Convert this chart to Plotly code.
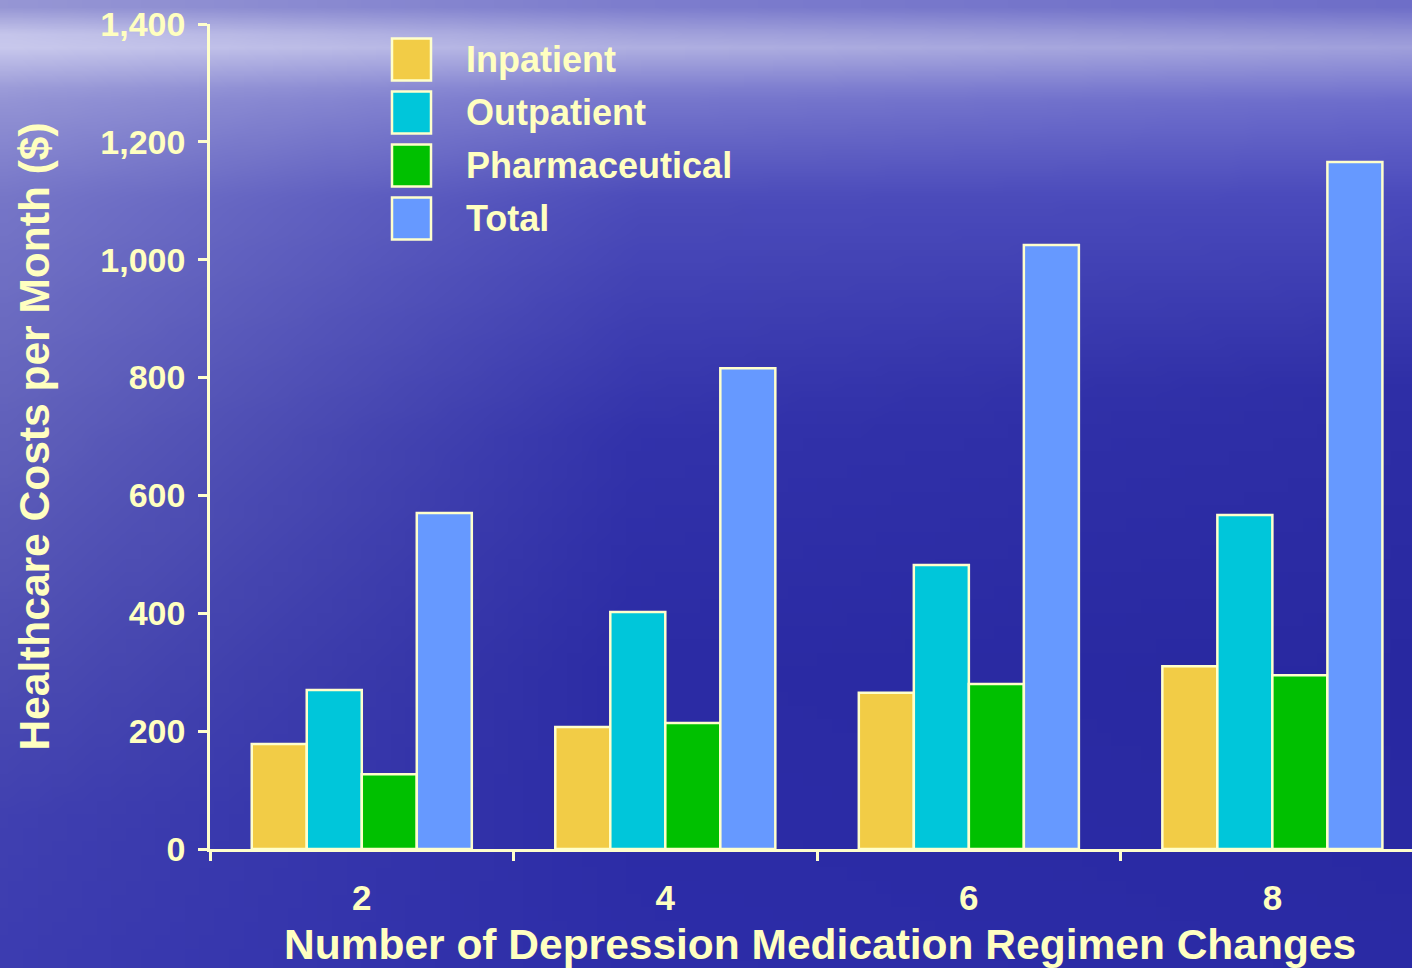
import base64
import struct
import zlib

import plotly.graph_objects as go

# ---------------- data ----------------
categories = ["2", "4", "6", "8"]
series_names = ["Inpatient", "Outpatient", "Pharmaceutical", "Total"]
inpatient = [178, 207, 265, 310]
outpatient = [270, 402, 482, 567]
pharmaceutical = [127, 214, 280, 295]
total = [570, 816, 1025, 1166]
y_ticks = [0, 200, 400, 600, 800, 1000, 1200, 1400]
x_title = "Number of Depression Medication Regimen Changes"
y_title = "Healthcare Costs per Month ($)"

series_values = [inpatient, outpatient, pharmaceutical, total]
series_colors = ["#F2CC46", "#00C6DA", "#00C000", "#6699FF"]

TEXT = "#FFFFC0"
LINE = "#FFFFCC"
FONT = "Liberation Sans, Arial, sans-serif"

W_FIG, H_FIG = 1412, 968
ML, MR, MT, MB = 210, 0, 24, 119
PW = W_FIG - ML - MR
PH = H_FIG - MT - MB


# ---------------- background gradient image ----------------
def lerp(a, b, t):
    return tuple(a[k] + (b[k] - a[k]) * t for k in range(3))


def profile(stops, v):
    for (v0, c0), (v1, c1) in zip(stops, stops[1:]):
        if v0 <= v <= v1:
            return lerp(c0, c1, (v - v0) / (v1 - v0) if v1 > v0 else 0)
    return stops[-1][1]


left_col = [(0, (150, 150, 212)), (0.035, (208, 208, 240)), (0.09, (150, 150, 214)),
            (0.2, (118, 118, 200)), (0.45, (96, 96, 186)), (0.7, (76, 76, 178)),
            (0.85, (64, 64, 176)), (1, (60, 60, 176))]
mid_col = [(0, (125, 125, 205)), (0.04, (178, 178, 226)), (0.09, (122, 122, 206)),
           (0.2, (76, 76, 186)), (0.45, (50, 50, 170)), (0.7, (43, 43, 164)),
           (1, (45, 45, 168))]
right_col = [(0, (110, 110, 200)), (0.04, (162, 162, 220)), (0.1, (108, 108, 204)),
             (0.2, (74, 74, 188)), (0.4, (46, 46, 166)), (0.7, (40, 40, 160)),
             (1, (42, 42, 164))]


def bg_color(u, v):
    a = profile(left_col, v)
    b = profile(mid_col, v)
    c = profile(right_col, v)
    if u < 0.45:
        col = lerp(a, b, u / 0.45)
    else:
        col = lerp(b, c, (u - 0.45) / 0.55)
    return bytes(int(max(0, min(255, round(x)))) for x in col)


def make_png(w, h):
    raw = bytearray()
    for j in range(h):
        v = j / (h - 1)
        raw.append(0)
        for i in range(w):
            raw += bg_color(i / (w - 1), v)

    def chunk(tag, data):
        return (struct.pack(">I", len(data)) + tag + data
                + struct.pack(">I", zlib.crc32(tag + data) & 0xFFFFFFFF))

    return (b"\x89PNG\r\n\x1a\n"
            + chunk(b"IHDR", struct.pack(">IIBBBBB", w, h, 8, 2, 0, 0, 0))
            + chunk(b"IDAT", zlib.compress(bytes(raw), 9))
            + chunk(b"IEND", b""))


bg_src = "data:image/png;base64," + base64.b64encode(make_png(96, 72)).decode()

# ---------------- figure ----------------
fig = go.Figure()
for name, vals, col in zip(series_names, series_values, series_colors):
    fig.add_trace(go.Bar(
        x=categories, y=vals, name=name,
        marker=dict(color=col, line=dict(color=LINE, width=2.5)),
        showlegend=False,
    ))


def px_x(px):
    return (px - ML) / PW


def px_y(py):
    return (H_FIG - MB - py) / PH


# custom legend (large swatches like the original)
shapes = []
annotations = []
sw_x0, sw_x1 = 392, 431
sw_centers = [59.5, 112.5, 165.5, 218.5]
for name, col, cy in zip(series_names, series_colors, sw_centers):
    shapes.append(dict(
        type="rect", xref="paper", yref="paper",
        x0=px_x(sw_x0), x1=px_x(sw_x1), y0=px_y(cy + 21), y1=px_y(cy - 21),
        fillcolor=col, line=dict(color=LINE, width=2.5), layer="above",
    ))
    annotations.append(dict(
        text=name, xref="paper", yref="paper", x=px_x(464), y=px_y(cy),
        xanchor="left", yanchor="middle", showarrow=False,
        font=dict(family=FONT, size=36, color=TEXT, weight="bold"),
    ))

# x-axis title placed as an annotation for precise positioning
annotations.append(dict(
    text=x_title, xref="paper", yref="paper", x=px_x(820), y=px_y(944),
    xanchor="center", yanchor="middle", showarrow=False,
    font=dict(family=FONT, size=42.5, color=TEXT, weight="bold"),
))

fig.update_layout(
    width=W_FIG, height=H_FIG,
    margin=dict(l=ML, r=MR, t=MT, b=MB, pad=0),
    paper_bgcolor="#3A3AAE",
    plot_bgcolor="rgba(0,0,0,0)",
    barmode="group", bargap=0.275, bargroupgap=0,
    showlegend=False,
    shapes=shapes,
    annotations=annotations,
    images=[dict(
        source=bg_src, xref="paper", yref="paper",
        x=-ML / PW, y=(H_FIG - MB) / PH,
        sizex=W_FIG / PW, sizey=H_FIG / PH,
        xanchor="left", yanchor="top", sizing="stretch", layer="below",
    )],
    font=dict(family=FONT, color=TEXT),
)

fig.update_xaxes(
    type="category", range=[-0.5, 3.46],
    showline=True, linecolor=LINE, linewidth=2.5,
    ticks="outside", tickson="boundaries", ticklen=9, tickwidth=2.5, tickcolor=LINE,
    showgrid=False, zeroline=False,
    tickfont=dict(family=FONT, size=35, color=TEXT, weight="bold"),
    ticklabelstandoff=16,
)
fig.update_yaxes(
    range=[0, 1400], tickvals=y_ticks, tickformat=",",
    showline=True, linecolor=LINE, linewidth=2.5,
    ticks="outside", ticklen=9, tickwidth=2.5, tickcolor=LINE,
    showgrid=False, zeroline=False,
    tickfont=dict(family=FONT, size=34, color=TEXT, weight="bold"),
    ticklabelstandoff=6,
    title=dict(text=y_title,
               font=dict(family=FONT, size=42.5, color=TEXT, weight="bold"),
               standoff=38),
)

fig.write_html(
    "out.html",
    config={"displayModeBar": False},
    post_script=(
        "document.documentElement.style.margin='0';"
        "document.body.style.margin='0';"
        "document.body.style.overflow='hidden';"
        "document.body.style.background='#3A3AAE';"
    ),
)
